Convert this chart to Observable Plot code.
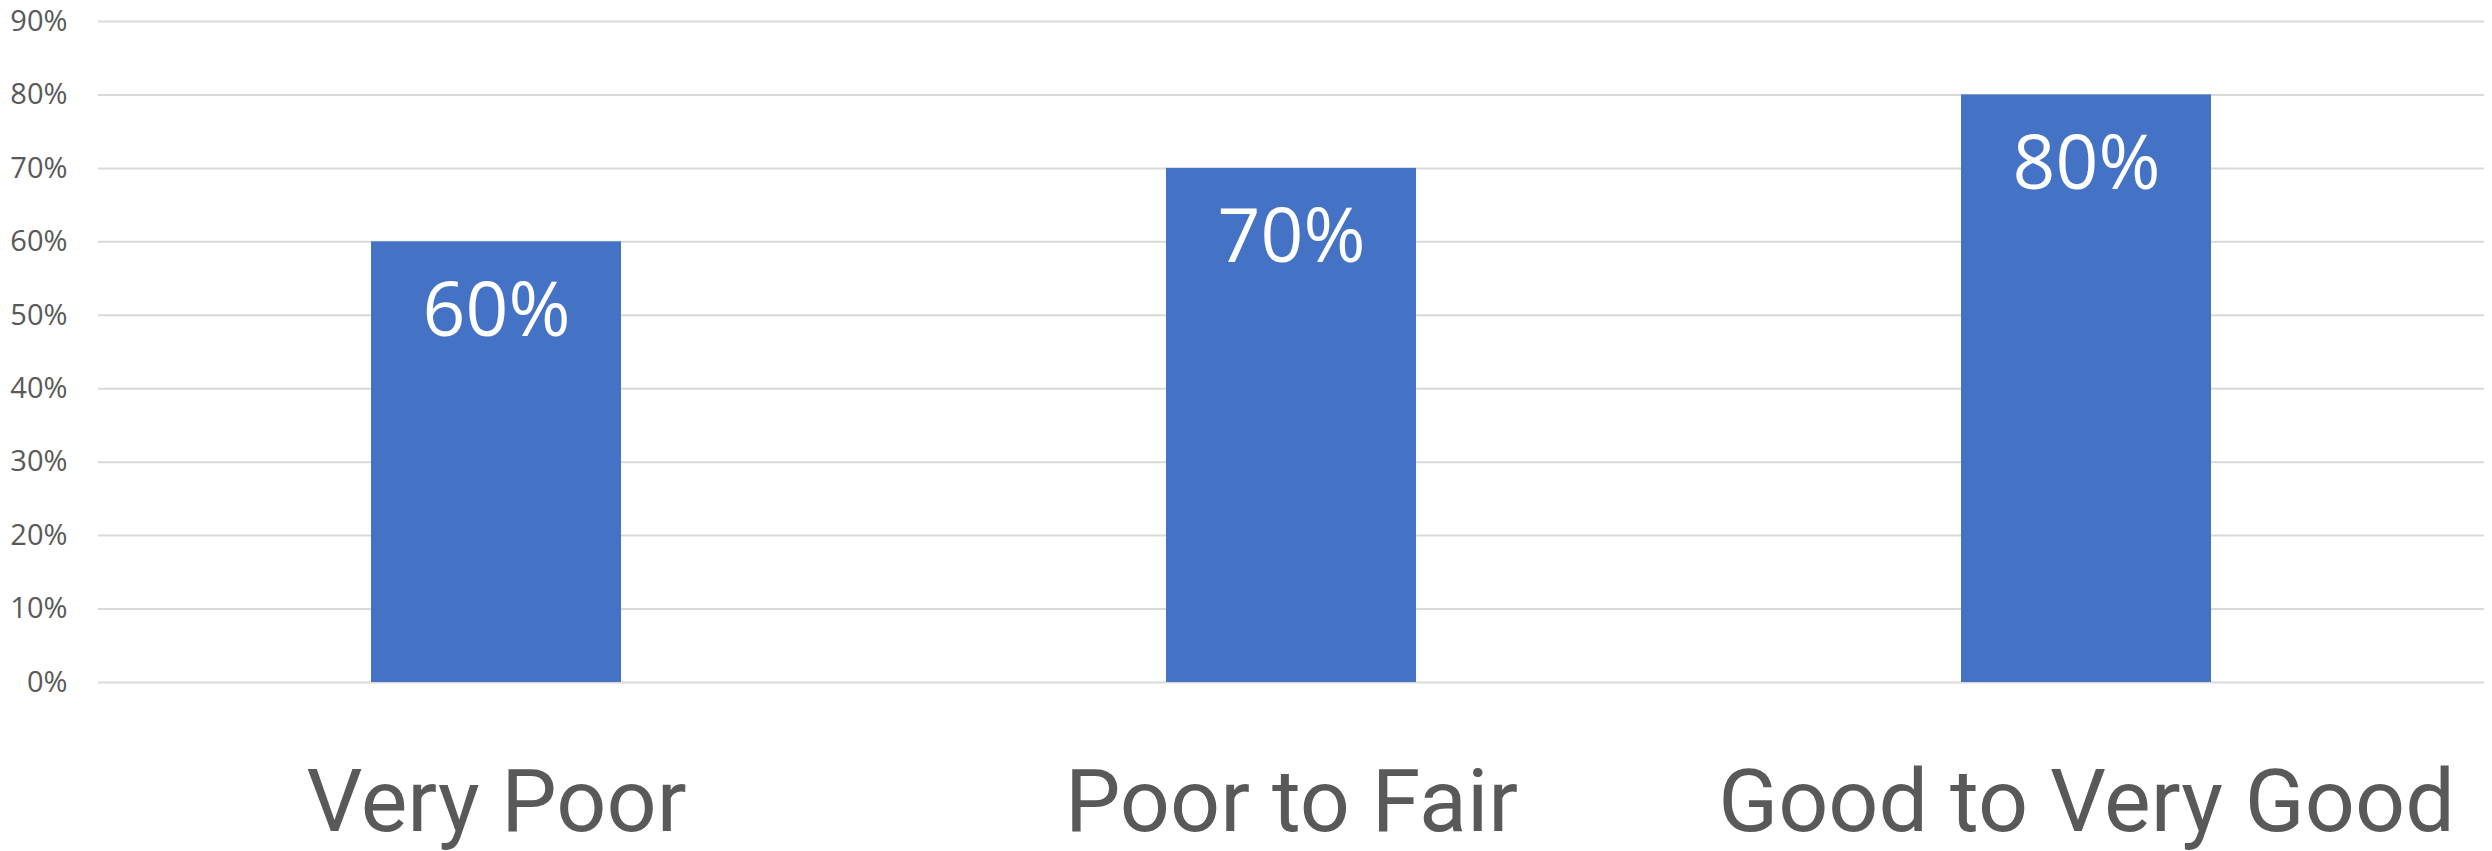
<!DOCTYPE html>
<html>
<head>
<meta charset="utf-8">
<script src="https://cdn.jsdelivr.net/npm/d3@7"></script>
<script src="https://cdn.jsdelivr.net/npm/@observablehq/plot@0.6"></script>
<style>
  html, body { margin: 0; padding: 0; background: #ffffff; }
  #chart svg { display: block; }
</style>
</head>
<body>
<div id="chart"></div>
<script>
const categories = ["Very Poor", "Poor to Fair", "Good to Very Good"];
const values = [0.6, 0.7, 0.8];
const yTicks = [0, 0.1, 0.2, 0.3, 0.4, 0.5, 0.6, 0.7, 0.8, 0.9];

const data = categories.map((c, i) => ({category: c, value: values[i]}));
const pct = d3.format(".0%");

const chart = Plot.plot({
  width: 2492,
  height: 851,
  marginTop: 21,
  marginBottom: 169,
  marginLeft: 98,
  marginRight: 8,
  style: {background: "#ffffff", color: "#595959"},
  x: {domain: categories, paddingInner: 0.686, paddingOuter: 0.343},
  y: {domain: [0, 0.9]},
  marks: [
    Plot.gridY(yTicks, {stroke: "#d9d9d9", strokeOpacity: 1, strokeWidth: 2}),
    Plot.barY(data, {x: "category", y: "value", fill: "#4472C4"}),
    Plot.text(data, {
      x: "category", y: "value", text: d => pct(d.value),
      dy: 70, fill: "#ffffff", fontSize: 75, fontFamily: "Open Sans"
    }),
    Plot.axisY(yTicks, {
      tickFormat: pct, tickSize: 0, tickPadding: 31,
      fontSize: 29, fontFamily: "Open Sans", fill: "#595959", label: null
    }),
    Plot.axisX({
      tickSize: 0, tickPadding: 86,
      fontSize: 88, fontFamily: "Roboto", fill: "#595959", label: null
    })
  ]
});
document.getElementById("chart").appendChild(chart);
</script>
</body>
</html>
